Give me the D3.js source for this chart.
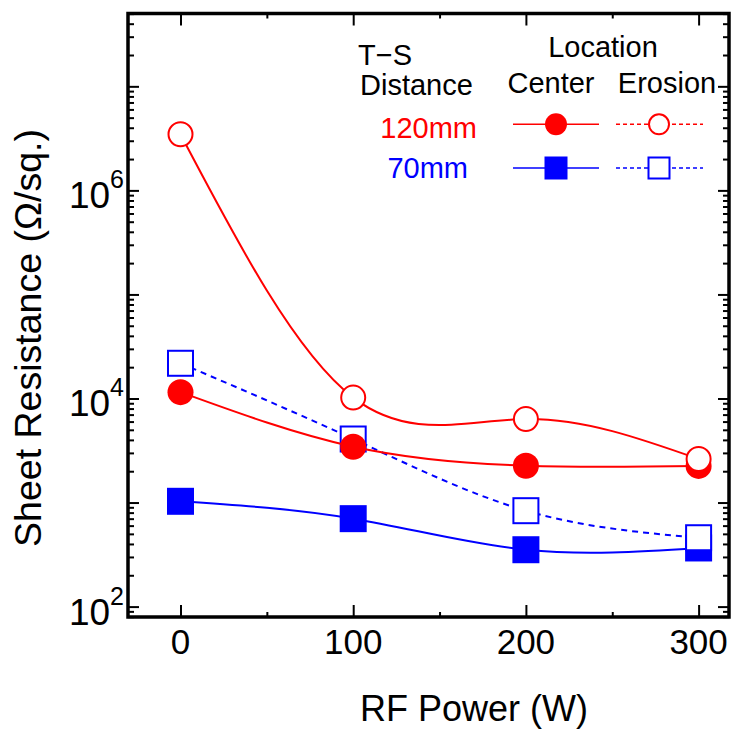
<!DOCTYPE html>
<html>
<head>
<meta charset="utf-8">
<script src="https://cdn.jsdelivr.net/npm/d3@7/dist/d3.min.js"></script>
<style>
  html, body { margin: 0; padding: 0; background: #fff; }
  svg { display: block; font-family: "Liberation Sans", Arial, Helvetica, sans-serif; }
</style>
</head>
<body>
<svg id="chart" width="734" height="729"></svg>
<script>
// ---- data ----
const rfPower = [0, 100, 200, 300];
const red120Center  = [11500, 3440, 2260, 2250];
const red120Erosion = [3460000, 10200, 6350, 2620];
const blue70Center  = [1028, 700, 352, 366];
const blue70Erosion = [21800, 4080, 835, 459];
const xMajorTicks = [0, 100, 200, 300];
const xMinorTicks = [50, 150, 250];
const yLabelTicks = [1e2, 1e4, 1e6];
const yLabelExps = ["2", "4", "6"];

const svg = d3.select("#chart");
const L = 128, R = 729, T = 13.5, B = 617;
const x = d3.scaleLinear().domain([-30.4, 317.6]).range([L, R]);
const y = d3.scaleLog().domain([Math.pow(10, 1.9), Math.pow(10, 7.7)]).range([B, T]);

const RED = "#ff0000", BLUE = "#0000ff";

// y ticks: decades major, 2..9 minor
const yMajor = [], yMinor = [];
for (let e = 1; e <= 8; e++) {
  const d = Math.pow(10, e);
  if (d >= y.domain()[0] && d <= y.domain()[1]) yMajor.push(d);
  for (let k = 2; k <= 9; k++) {
    const v = k * d;
    if (v >= y.domain()[0] && v <= y.domain()[1]) yMinor.push(v);
  }
}

function styleAxis(g) {
  g.select(".domain").remove();
  g.selectAll(".tick line").attr("stroke", "#000").attr("stroke-width", 2);
  g.selectAll(".tick text").remove();
}
// left
svg.append("g").attr("transform", `translate(${L},0)`)
  .call(d3.axisLeft(y).tickValues(yMajor).tickSize(-11).tickFormat("")).call(styleAxis);
svg.append("g").attr("transform", `translate(${L},0)`)
  .call(d3.axisLeft(y).tickValues(yMinor).tickSize(-6).tickFormat("")).call(styleAxis);
// right
svg.append("g").attr("transform", `translate(${R},0)`)
  .call(d3.axisRight(y).tickValues(yMajor).tickSize(-11).tickFormat("")).call(styleAxis);
svg.append("g").attr("transform", `translate(${R},0)`)
  .call(d3.axisRight(y).tickValues(yMinor).tickSize(-6).tickFormat("")).call(styleAxis);
// bottom
svg.append("g").attr("transform", `translate(0,${B})`)
  .call(d3.axisBottom(x).tickValues(xMajorTicks).tickSize(-12).tickFormat("")).call(styleAxis);
svg.append("g").attr("transform", `translate(0,${B})`)
  .call(d3.axisBottom(x).tickValues(xMinorTicks).tickSize(-5).tickFormat("")).call(styleAxis);
// top
svg.append("g").attr("transform", `translate(0,${T})`)
  .call(d3.axisTop(x).tickValues(xMajorTicks).tickSize(-12).tickFormat("")).call(styleAxis);
svg.append("g").attr("transform", `translate(0,${T})`)
  .call(d3.axisTop(x).tickValues(xMinorTicks).tickSize(-5).tickFormat("")).call(styleAxis);

// frame
svg.append("rect").attr("x", L).attr("y", T).attr("width", R - L).attr("height", B - T)
  .attr("fill", "none").attr("stroke", "#000").attr("stroke-width", 3.5);

// x tick labels
svg.append("g").selectAll("text").data(xMajorTicks).join("text")
  .attr("x", d => x(d)).attr("y", B + 37)
  .attr("text-anchor", "middle").attr("font-size", 35).attr("fill", "#000")
  .text(d => d);

// y tick labels
const yl = svg.append("g").selectAll("text").data(yLabelTicks).join("text")
  .attr("x", L - 4).attr("y", d => y(d) + 18)
  .attr("text-anchor", "end").attr("fill", "#000");
yl.append("tspan").attr("font-size", 37).text("10");
yl.append("tspan").attr("font-size", 25).attr("dy", -20).text((d, i) => yLabelExps[i]);

// axis titles
svg.append("text").attr("x", 474).attr("y", 721).attr("text-anchor", "middle")
  .attr("font-size", 36).attr("fill", "#000").text("RF Power (W)");
svg.append("text").attr("transform", "translate(41,338) rotate(-90)")
  .attr("text-anchor", "middle").attr("font-size", 37.5).attr("fill", "#000")
  .text("Sheet Resistance (Ω/sq.)");

// series
const line = d3.line().x(d => x(d[0])).y(d => y(d[1])).curve(d3.curveNatural);
const series = [
  { vals: blue70Center,  color: BLUE, dash: null,  shape: "square", filled: true },
  { vals: blue70Erosion, color: BLUE, dash: "6,5", shape: "square", filled: false },
  { vals: red120Center,  color: RED,  dash: null,  shape: "circle", filled: true },
  { vals: red120Erosion, color: RED,  dash: null,  shape: "circle", filled: false }
];

function drawMarker(g, cx, cy, s) {
  const size = s.shape === "circle" ? 13 : 13.5;
  if (s.shape === "circle") {
    g.append("circle").attr("cx", cx).attr("cy", cy).attr("r", s.filled ? size : size - 1)
      .attr("fill", s.filled ? s.color : "#fff")
      .attr("stroke", s.filled ? "none" : s.color).attr("stroke-width", 2);
  } else {
    const h = s.filled ? size : size - 1;
    g.append("rect").attr("x", cx - h).attr("y", cy - h).attr("width", 2 * h).attr("height", 2 * h)
      .attr("fill", s.filled ? s.color : "#fff")
      .attr("stroke", s.filled ? "none" : s.color).attr("stroke-width", 2);
  }
}

series.forEach(s => {
  const pts = rfPower.map((p, i) => [p, s.vals[i]]);
  const g = svg.append("g");
  g.append("path").attr("d", line(pts)).attr("fill", "none")
    .attr("stroke", s.color).attr("stroke-width", 2)
    .attr("stroke-dasharray", s.dash);
  pts.forEach(p => drawMarker(g, x(p[0]), y(p[1]), s));
});

// legend
const lg = svg.append("g").attr("font-size", 29).attr("fill", "#000");
lg.append("text").attr("x", 358).attr("y", 65).text("T\u2212S");
lg.append("text").attr("x", 360).attr("y", 95).text("Distance");
lg.append("text").attr("x", 603).attr("y", 57).attr("text-anchor", "middle").text("Location");
lg.append("text").attr("x", 551).attr("y", 93).attr("text-anchor", "middle").text("Center");
lg.append("text").attr("x", 667).attr("y", 93).attr("text-anchor", "middle").text("Erosion");
lg.append("text").attr("x", 477).attr("y", 138).attr("text-anchor", "end").attr("fill", RED).text("120mm");
lg.append("text").attr("x", 468).attr("y", 178).attr("text-anchor", "end").attr("fill", BLUE).text("70mm");

const legRows = [
  { yy: 124.3, color: RED, shape: "circle" },
  { yy: 168, color: BLUE, shape: "square" }
];
legRows.forEach(r => {
  svg.append("line").attr("x1", 513).attr("x2", 599).attr("y1", r.yy).attr("y2", r.yy)
    .attr("stroke", r.color).attr("stroke-width", 1.5);
  svg.append("line").attr("x1", 616).attr("x2", 703).attr("y1", r.yy).attr("y2", r.yy)
    .attr("stroke", r.color).attr("stroke-width", 1.5).attr("stroke-dasharray", "4,3");
  [{ cx: 556, filled: true }, { cx: 659, filled: false }].forEach(m => {
    if (r.shape === "circle") {
      svg.append("circle").attr("cx", m.cx).attr("cy", r.yy).attr("r", m.filled ? 11 : 10)
        .attr("fill", m.filled ? r.color : "#fff").attr("stroke", m.filled ? "none" : r.color).attr("stroke-width", 2);
    } else {
      const h = m.filled ? 11.5 : 10.5;
      svg.append("rect").attr("x", m.cx - h).attr("y", r.yy - h).attr("width", 2 * h).attr("height", 2 * h)
        .attr("fill", m.filled ? r.color : "#fff").attr("stroke", m.filled ? "none" : r.color).attr("stroke-width", 2);
    }
  });
});
</script>
</body>
</html>
